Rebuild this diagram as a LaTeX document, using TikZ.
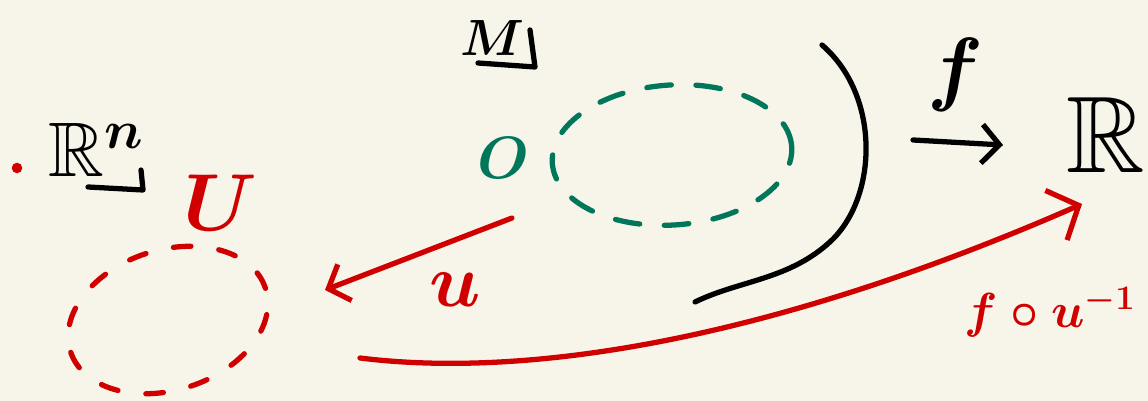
\RequirePackage{fix-cm}
\documentclass[tikz,border=0pt]{standalone}
\usepackage{amssymb}
\usetikzlibrary{arrows.meta,shapes.geometric}
\definecolor{notePapel}{HTML}{F7F5EA}
\definecolor{noteRojo}{HTML}{D00000}
\definecolor{noteVerde}{HTML}{00775A}
\newcommand{\fsz}[1]{\fontsize{#1}{#1}\selectfont}

\begin{document}
\begin{tikzpicture}[x=0.02cm, y=-0.02cm,
      pen/.style={line width=3pt, line cap=round, line join=round},
      lbl/.style={inner sep=0pt, font=\fsz{#1}\boldmath},
      setred/.style={ellipse, draw=noteRojo, pen, dash pattern=on 10pt off 16pt,
                     minimum width=4.1cm, minimum height=2.8cm},
      setgreen/.style={ellipse, draw=noteVerde, pen, dash pattern=on 14pt off 14pt,
                       minimum width=4.8cm, minimum height=2.8cm},
      barb/.style={-{Straight Barb[length=#1, width=2.2*#1, line width=3pt]}}]
    \fill[notePapel] (0,0) rectangle (1148,401);
    \useasboundingbox (0,0) rectangle (1148,401);
    % spaces
    \node[setred, rotate=18]  (Uset) at (168,320) {};
    \node[setgreen, rotate=4] (Mset) at (672,155) {};
    \fill[noteRojo] (17,168) circle (3pt);
    % labels
    \node[lbl=44] (rn) at (96,150) {$\mathbb{R}^n$};
    \draw[pen] (88,187) -- (143,190) -- (141,170);
    \node[lbl=46, text=noteRojo] (U) at (220,203) {$U$};
    \node[lbl=29] (M) at (492,38) {$M$};
    \draw[pen] (478,63) -- (535,67) -- (530,30);
    \node[lbl=34, text=noteVerde] (O) at (503,158) {$O$};
    \node[lbl=47] (f) at (955,75) {$f$};
    \node[lbl=62, anchor=east] (R) at (1146,135) {$\mathbb{R}$};
    \node[lbl=43, text=noteRojo] (u) at (455,290) {$u$};
    \node[lbl=28, text=noteRojo, anchor=west] (fu) at (964,312) {$f\circ u^{-1}$};
    % maps
    \coordinate (uA) at (512,218);
    \coordinate (uB) at (325,290);
    \draw[pen, noteRojo, barb=10pt] (uA) -- (uB);
    \coordinate (fA) at (913,140);
    \coordinate (fB) at (1003,145);
    \draw[pen, barb=10pt] (fA) -- (fB);
    \coordinate (gA) at (360,358);
    \coordinate (gB) at (1082,204);
    \draw[pen, noteRojo, barb=14pt] (gA) .. controls (520,378) and (760,345) .. (gB);
    % cut of the domain
    \draw[pen] (822,45) .. controls (880,95) and (878,195) .. (832,240)
               .. controls (790,280) and (740,280) .. (695,302);
  \end{tikzpicture}
\end{document}
